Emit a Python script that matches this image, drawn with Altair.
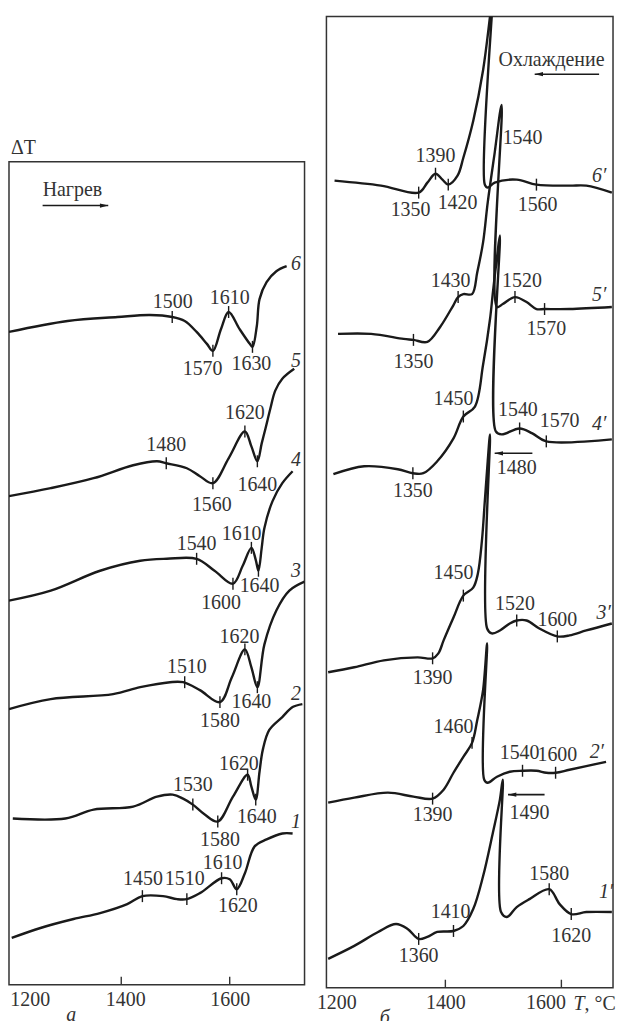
import altair as alt
import pandas as pd

FONT = "Liberation Serif, DejaVu Serif, serif"
INK = "#1a1a1a"
TXT = "#333333"

# ---------------- left panel (а): heating, curves 1-6 ----------------
T6 = [1193,1301,1393,1453,1494,1517,1539,1558,1569,1584,1598,1618,1637,1642,1650,1655,1668,1686,1705]
Y6 = [656,667,671,673,671,667,656,644,637,659,676,659,644,641,662,689,706,717,722]
T5 = [1193,1270,1349,1422,1466,1483,1521,1545,1569,1598,1628,1640,1651,1659,1666,1675,1684,1697,1719]
Y5 = [491,499,509,522,526,524,519,511,504,529,556,541,526,544,559,579,597,609,619]
T4 = [1193,1270,1361,1435,1484,1539,1572,1606,1624,1640,1648,1653,1659,1664,1679,1697,1716]
Y4 = [386,396,416,426,428,428,416,403,421,439,427,416,439,459,486,504,516]
T3 = [1193,1270,1385,1435,1490,1514,1545,1582,1604,1628,1640,1651,1664,1686,1710,1738]
Y3 = [277,287,292,299,304,304,296,284,309,337,319,299,342,376,396,405]
T2 = [1200,1297,1349,1422,1466,1495,1514,1532,1554,1578,1606,1633,1640,1648,1655,1661,1673,1697,1716,1734]
Y2 = [167,167,176,179,189,191,187,181,171,164,189,211,199,186,214,236,256,269,279,282]
T1 = [1198,1251,1312,1361,1411,1439,1477,1503,1521,1545,1585,1600,1613,1628,1646,1668,1697,1716]
Y1 = [47,57,66,72,81,89,89,86,86,92,107,106,96,112,139,146,152,152]

LT_T = [1494,1569,1598,1642, 1483,1569,1628,1651, 1539,1606,1640,1653, 1517,1582,1628,1651, 1532,1578,1633,1648, 1439,1521,1585,1613]
LT_Y = [671,637,676,641, 524,504,556,526, 428,403,439,416, 304,284,337,299, 181,164,211,186, 89,86,107,96]

LL_TXT = ["1500","1570","1610","1630", "1480","1560","1620","1640", "1540","1600","1610","1640",
          "1510","1580","1620","1640", "1530","1580","1620","1640", "1450","1510","1610","1620"]
LL_T = [1495,1550,1600,1640, 1483,1567,1628,1651, 1539,1584,1622,1655, 1521,1582,1618,1640, 1532,1582,1617,1650, 1440,1517,1587,1615]
LL_Y = [686,619,690,624, 542,482,574,502, 443,384,453,401, 319,265,349,284, 201,145,222,169, 106,106,122,79]

LN_TXT = ["6","5","4","3","2","1"]
LN_T = [1722,1722,1722,1722,1722,1722]
LN_Y = [724,627,527,416,292,163]

L_NOTE_TXT = ["Нагрев"]
L_NOTE_T = [1310]
L_NOTE_Y = [799]
L_ARR_T0 = [1255]
L_ARR_T1 = [1376]
L_ARR_Y = [783]

# ---------------- right panel (б): cooling, curves 1'-6' ----------------
R6 = [1209,1289,1354,1369,1383,1395,1405,1421,1431,1448,1465,1477,1482,1468,1473,1485,1523,1557,1614,1643,1687]
Q6 = [811,806,799,809,818,812,807,816,834,871,922,976,1000,807,804,809,812,807,806,806,799]
R5 = [1215,1272,1328,1345,1369,1391,1414,1422,1431,1446,1455,1465,1473,1485,1497,1489,1499,1520,1540,1557,1571,1614,1687]
Q5 = [657,657,652,651,649,664,686,694,697,697,719,749,789,839,887,684,687,694,689,682,682,682,684]
R4 = [1207,1260,1318,1344,1362,1386,1414,1431,1451,1465,1477,1482,1489,1494,1487,1497,1528,1550,1574,1687]
Q4 = [516,524,521,517,517,529,552,574,584,626,672,699,734,756,559,556,562,557,549,551]
R3 = [1198,1243,1294,1352,1378,1388,1397,1414,1431,1448,1456,1463,1468,1473,1477,1472,1480,1494,1511,1523,1540,1562,1593,1614,1643,1687]
Q3 = [317,322,329,332,331,336,349,372,394,402,416,449,489,529,556,361,356,359,366,369,369,361,353,354,359,366]
R2 = [1198,1243,1301,1345,1378,1397,1414,1431,1446,1455,1465,1472,1467,1473,1489,1511,1533,1557,1574,1590,1614,1677]
Q2 = [186,191,196,192,190,199,216,232,246,269,299,346,209,206,212,217,218,218,216,216,219,227]
R1 = [1198,1243,1284,1315,1335,1354,1369,1386,1414,1431,1448,1465,1482,1494,1499,1496,1506,1523,1545,1579,1597,1617,1643,1687]
Q1 = [29,42,56,64,59,49,51,56,57,62,79,112,156,189,209,76,71,81,89,99,84,74,76,76]

RT_T = [1354,1383,1405,1557, 1345,1422,1520,1571, 1344,1431,1528,1574, 1378,1431,1523,1593, 1378,1446,1533,1590, 1354,1414,1579,1617]
RT_Y = [799,818,807,807, 651,694,694,682, 517,574,562,549, 331,394,369,353, 190,246,218,216, 49,57,99,74]

RL_TXT = ["1350","1390","1420","1540","1560", "1350","1430","1520","1570", "1350","1450","1540","1570","1480",
          "1390","1450","1520","1600", "1390","1460","1540","1600","1490", "1360","1410","1580","1620"]
RL_T = [1340,1383,1421,1533,1559, 1345,1409,1532,1574, 1344,1414,1525,1597,1523,
        1378,1414,1520,1593, 1378,1414,1528,1593,1545, 1354,1409,1579,1617]
RL_Y = [781,836,789,854,787, 629,710,710,662, 499,592,581,569,522,
        311,417,386,369, 174,262,236,234,176, 32,76,114,52]

RN_TXT = ["6′","5′","4′","3′","2′","1′"]
RN_T = [1665,1665,1665,1673,1661,1677]
RN_Y = [816,696,566,377,237,96]

R_NOTE_TXT = ["Охлаждение"]
R_NOTE_T = [1583]
R_NOTE_Y = [932]
R_ARR_T0 = [1665,1550,1571]
R_ARR_T1 = [1554,1485,1508]
R_ARR_Y = [918,537,194]

UNIT_T = [1621]
UNIT_Y = [-16]
UNIT2_T = [1640]

AX_VALUES = [1200, 1400, 1600]
AX_TICKS = [1400, 1600]

FS = 20


def curves_df(curves):
    rows = []
    for name, T, Y in curves:
        for i, (t, y) in enumerate(zip(T, Y)):
            rows.append({"curve": name, "i": i, "T": t, "dT": y})
    return pd.DataFrame(rows)


def panel(curves, tT, tY, lTxt, lT, lY, nTxt, nT, nY, noteTxt, noteT, noteY,
          aT0, aT1, aY, head, xdom, ydom, width, height, axis):
    xs = alt.Scale(domain=xdom, nice=False, zero=False)
    ys = alt.Scale(domain=ydom, nice=False, zero=False)

    def X(f="T"):
        return alt.X(f, type="quantitative", scale=xs, axis=axis, title=axis.title)

    def Y(f="dT"):
        return alt.Y(f, type="quantitative", scale=ys, axis=None)

    lines = alt.Chart(curves_df(curves)).mark_line(
        color=INK, strokeWidth=2.4, clip=True, strokeJoin="round", interpolate="catmull-rom"
    ).encode(x=X(), y=Y(), detail="curve:N", order="i:Q")

    ticks = alt.Chart(pd.DataFrame({"T": tT, "dT": tY})).transform_calculate(
        y0="datum.dT - 6", y1="datum.dT + 6"
    ).mark_rule(color=INK, strokeWidth=1.4).encode(x=X(), y=Y("y0"), y2="y1:Q")

    labels = alt.Chart(pd.DataFrame({"T": lT, "dT": lY, "txt": lTxt})).mark_text(
        font=FONT, fontSize=FS, color=TXT
    ).encode(x=X(), y=Y(), text="txt:N")

    names = alt.Chart(pd.DataFrame({"T": nT, "dT": nY, "txt": nTxt})).mark_text(
        font=FONT, fontSize=FS, fontStyle="italic", color=TXT
    ).encode(x=X(), y=Y(), text="txt:N")

    notes = alt.Chart(pd.DataFrame({"T": noteT, "dT": noteY, "txt": noteTxt})).mark_text(
        font=FONT, fontSize=FS, color=TXT
    ).encode(x=X(), y=Y(), text="txt:N")

    adf = pd.DataFrame({"T": aT0, "T1": aT1, "dT": aY})
    shafts = alt.Chart(adf).mark_rule(color=INK, strokeWidth=1.6).encode(
        x=X(), x2="T1:Q", y=Y())
    heads = alt.Chart(adf).mark_point(
        shape=head, filled=True, size=70, color=INK, opacity=1
    ).encode(x=X("T1"), y=Y())

    axticks = alt.Chart(pd.DataFrame({"T": AX_TICKS})).mark_rule(
        color=TXT, strokeWidth=1.4
    ).encode(x=X(), y=alt.value(height), y2=alt.value(height - 8))

    return [lines, ticks, labels, names, notes, shafts, heads, axticks]


def make_axis(title, title_x, offsets):
    off = {"condition": [{"test": f"datum.value == {v}", "value": o} for v, o in offsets], "value": 0}
    return alt.Axis(values=AX_VALUES, format="d", ticks=False, domain=False, grid=False,
                    labelFont=FONT, labelFontSize=FS, labelColor=TXT,
                    labelPadding=5, labelOffset=off,
                    title=title, titleFont=FONT, titleFontSize=FS,
                    titleFontStyle="italic", titleFontWeight="normal", titleColor=TXT,
                    titleX=title_x, titleY=20, titleAlign="center", titleBaseline="top")


left_axis = make_axis("а", 62, [(1200, 17), (1400, 4)])
right_axis = make_axis("б", 58, [(1200, 7), (1600, -16)])

LW, LH = 297, 827
RW, RH = 288, 976
frame = alt.ViewBackground(stroke="#333333", strokeWidth=1.5)

left_layers = panel(
    [("6", T6, Y6), ("5", T5, Y5), ("4", T4, Y4), ("3", T3, Y3), ("2", T2, Y2), ("1", T1, Y1)],
    LT_T, LT_Y, LL_TXT, LL_T, LL_Y, LN_TXT, LN_T, LN_Y, L_NOTE_TXT, L_NOTE_T, L_NOTE_Y,
    L_ARR_T0, L_ARR_T1, L_ARR_Y, "M0,0L-2,-0.5L-2,0.5Z",
    [1193, 1738], [0, LH], LW, LH, left_axis)

left_panel = alt.layer(*left_layers).properties(
    width=LW, height=LH, view=frame,
    title=alt.TitleParams("ΔT", anchor="start", font=FONT, fontSize=FS, fontWeight="normal",
                          color=TXT, offset=4, dx=2))

spacer = alt.Chart(pd.DataFrame({"a": [0]})).mark_point(opacity=0, size=1).encode(
    x=alt.value(0), y=alt.value(0)
).properties(width=LW, height=121, view=alt.ViewBackground(strokeOpacity=0))

left_col = alt.vconcat(spacer, left_panel, spacing=0)

right_layers = panel(
    [("6", R6, Q6), ("5", R5, Q5), ("4", R4, Q4), ("3", R3, Q3), ("2", R2, Q2), ("1", R1, Q1)],
    RT_T, RT_Y, RL_TXT, RL_T, RL_Y, RN_TXT, RN_T, RN_Y, R_NOTE_TXT, R_NOTE_T, R_NOTE_Y,
    R_ARR_T0, R_ARR_T1, R_ARR_Y, "M0,0L2,-0.5L2,0.5Z",
    [1195, 1689], [0, RH], RW, RH, right_axis)

xs_r = alt.Scale(domain=[1195, 1689], nice=False, zero=False)
ys_r = alt.Scale(domain=[0, RH], nice=False, zero=False)
unit_t = alt.Chart(pd.DataFrame({"T": UNIT_T, "dT": UNIT_Y, "txt": ["T"]})).mark_text(
    font=FONT, fontSize=FS, fontStyle="italic", color=TXT, align="left"
).encode(x=alt.X("T:Q", scale=xs_r, axis=right_axis), y=alt.Y("dT:Q", scale=ys_r, axis=None), text="txt:N")
unit_c = alt.Chart(pd.DataFrame({"T": UNIT2_T, "dT": UNIT_Y, "txt": [", °C"]})).mark_text(
    font=FONT, fontSize=FS, color=TXT, align="left"
).encode(x=alt.X("T:Q", scale=xs_r, axis=right_axis), y=alt.Y("dT:Q", scale=ys_r, axis=None), text="txt:N")

right_panel = alt.layer(*right_layers, unit_t, unit_c).properties(width=RW, height=RH, view=frame)

chart = alt.hconcat(left_col, right_panel, spacing=10).properties(
    padding={"left": 0, "top": 5, "right": 0, "bottom": 0},
    background="white",
)

chart.save("out.html", embed_options={"renderer": "svg", "actions": False})
